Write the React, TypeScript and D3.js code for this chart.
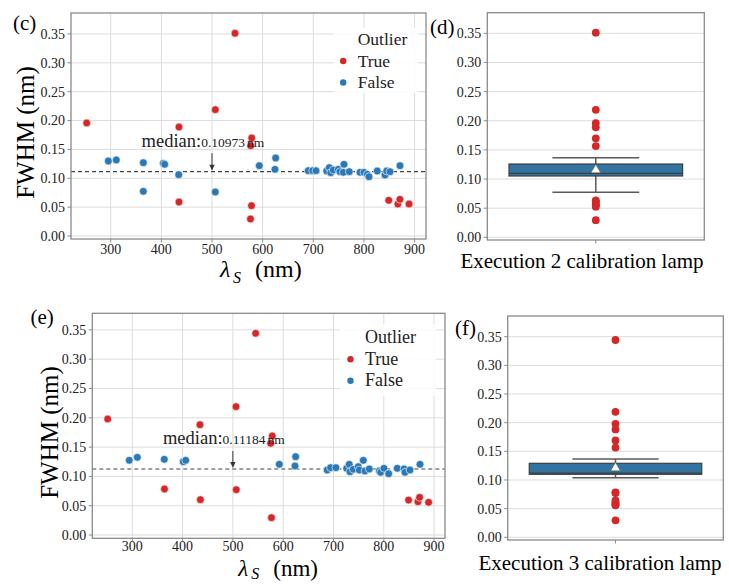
import React from "react";
import * as d3 from "d3";

// ---------- data ----------
// Panel (c): execution 2, outliers (True)
const cOutX = [252.6, 545.4, 506.5, 434.8, 578.4, 576.4, 434.8, 578.0, 576.0, 848.9, 867.0, 871.0, 889.0];
const cOutY = [0.1958, 0.3512, 0.2188, 0.1888, 0.1698, 0.1565, 0.0589, 0.0525, 0.0295, 0.0618, 0.0554, 0.0635, 0.0554];
// Panel (c): inliers (False)
const cInX = [295.3, 311.0, 364.4, 364.4, 403.9, 406.6, 434.2, 506.5, 593.4, 625.7, 624.3,
  690.1, 698.8, 705.3, 726.4, 731.6, 734.4, 739.5, 749.4, 752.7, 760.6, 759.3, 771.1,
  792.2, 800.1, 806.6, 809.9, 826.3, 841.5, 844.9, 851.4, 871.2];
const cInY = [0.1299, 0.1317, 0.127, 0.0774, 0.1259, 0.1242, 0.1062, 0.0762, 0.1218, 0.1351, 0.1155,
  0.1131, 0.1131, 0.1131, 0.1126, 0.1184, 0.1097, 0.1143, 0.1155, 0.1114, 0.1242, 0.1103, 0.1114,
  0.1103, 0.1103, 0.1069, 0.1027, 0.1126, 0.1057, 0.1126, 0.1114, 0.1218];

// Panel (e): execution 3
const eOutX = [251.1, 545.3, 506.2, 434.6, 578.3, 575.1, 364.0, 435.4, 506.7, 576.7, 849.3, 868.0, 871.2, 889.1];
const eOutY = [0.198, 0.3442, 0.219, 0.1882, 0.169, 0.1565, 0.0785, 0.0603, 0.0773, 0.0296, 0.0597, 0.0568, 0.0643, 0.0558];
const eInX = [294.0, 310.0, 363.6, 401.4, 406.2, 592.3, 624.8, 623.5,
  687.5, 694.2, 704.8, 726.2, 731.4, 732.8, 739.4, 749.3, 751.3, 759.3, 762.6, 771.2,
  791.1, 793.8, 800.4, 809.7, 826.8, 840.2, 842.2, 852.1, 872.0];
const eInY = [0.1275, 0.1326, 0.1292, 0.1251, 0.1275, 0.1207, 0.1336, 0.1178,
  0.1109, 0.1149, 0.1149, 0.1138, 0.1206, 0.108, 0.1121, 0.1166, 0.1109, 0.1274, 0.1092, 0.1126,
  0.1092, 0.107, 0.1138, 0.1046, 0.1138, 0.1126, 0.107, 0.1109, 0.1206];

// dashed median lines as drawn, and the annotated values
const medianLines = [0.1114, 0.1126];
const medianLabels = ["0.10973", "0.11184"];

// box plot statistics: [lower whisker, Q1, median, Q3, upper whisker, mean]
const boxStatsD = [0.0772, 0.1052, 0.1097, 0.1258, 0.1366, 0.1155];
const boxStatsF = [0.104, 0.1099, 0.1118, 0.1291, 0.1366, 0.1209];

const xTicks = [300, 400, 500, 600, 700, 800, 900];
const yTicks = [0, 0.05, 0.1, 0.15, 0.2, 0.25, 0.3, 0.35];
const legendItems = ["True", "False"];
const boxLabels = ["Execution 2 calibration lamp", "Execution 3 calibration lamp"];

// ---------- style ----------
const FONT = "'Liberation Serif', 'Times New Roman', serif";
const RED = "#d62728";
const BLUE = "#2a78b6";
const GRID = "#dcdcdc";
const FRAME = "#8a8a8a";
const TEXT = "#222";
const fmt = d3.format(".2f");

type Frame = { x0: number; x1: number; y0: number; y1: number };

function YAxis({ f, y }: { f: Frame; y: d3.ScaleLinear<number, number> }) {
  return (
    <g>
      {yTicks.map((t) => (
        <g key={t}>
          <line x1={f.x0 - 3.5} x2={f.x0} y1={y(t)} y2={y(t)} stroke={FRAME} strokeWidth={1} />
          <text x={f.x0 - 6} y={y(t)} dy="0.35em" textAnchor="end" fontSize={14} fill={TEXT} fontFamily={FONT}>
            {fmt(t)}
          </text>
        </g>
      ))}
    </g>
  );
}

function ScatterPanel(props: {
  f: Frame;
  xDom: [number, number];
  yDom: [number, number];
  inX: number[]; inY: number[]; outX: number[]; outY: number[];
  med: number; medLabel: string;
  tag: string; tagX: number; tagY: number;
  ylX: number; ylY: number;
  xlX: number; xlY: number; subDy: number; xlFs: number; tickDy: number;
  legX: number; legY: number; legFs: number;
  legBox: [number, number, number, number];
}) {
  const { f } = props;
  const x = d3.scaleLinear().domain(props.xDom).range([f.x0, f.x1]);
  const y = d3.scaleLinear().domain(props.yDom).range([f.y1, f.y0]);
  const ax = x(500);
  const tipY = y(props.med) - 1;
  const startY = y(0.1433);
  const lg = props.legFs;
  return (
    <g>
      <rect x={f.x0} y={f.y0} width={f.x1 - f.x0} height={f.y1 - f.y0} fill="#fff" />
      {xTicks.map((t) => (
        <line key={"gx" + t} x1={x(t)} x2={x(t)} y1={f.y0} y2={f.y1} stroke={GRID} strokeWidth={1} />
      ))}
      {yTicks.map((t) => (
        <line key={"gy" + t} x1={f.x0} x2={f.x1} y1={y(t)} y2={y(t)} stroke={GRID} strokeWidth={1} />
      ))}
      <line x1={f.x0} x2={f.x1} y1={y(props.med)} y2={y(props.med)} stroke="#444" strokeWidth={1.2} strokeDasharray="4,3" />
      {props.inX.map((v, i) => (
        <circle key={"i" + i} cx={x(v)} cy={y(props.inY[i])} r={3.9} fill={BLUE} stroke="#fff" strokeWidth={0.6} />
      ))}
      {props.outX.map((v, i) => (
        <circle key={"o" + i} cx={x(v)} cy={y(props.outY[i])} r={3.9} fill={RED} stroke="#fff" strokeWidth={0.6} />
      ))}
      {/* legend */}
      <rect x={props.legBox[0]} y={props.legBox[1]} width={props.legBox[2]} height={props.legBox[3]} rx={3} fill="#fff" fillOpacity={0.85} />
      <text x={props.legX} y={props.legY} fontSize={lg} fill={TEXT} fontFamily={FONT}>Outlier</text>
      {legendItems.map((k, i) => (
        <g key={k}>
          <circle cx={props.legX - 14.5} cy={props.legY + 21.5 * (i + 1) - 5.5} r={3.2} fill={i === 0 ? RED : BLUE} />
          <text x={props.legX} y={props.legY + 21.5 * (i + 1)} fontSize={lg} fill={TEXT} fontFamily={FONT}>{k}</text>
        </g>
      ))}
      {/* annotation */}
      <text x={x(361)} y={y(0.1548)} fill={TEXT} fontFamily={FONT}>
        <tspan fontSize={18.5}>median:</tspan>
        <tspan fontSize={13.5}>{props.medLabel}</tspan>
        <tspan fontSize={13.5} dx={2}>nm</tspan>
      </text>
      <line x1={ax} x2={ax} y1={startY} y2={tipY - 5} stroke="#333" strokeWidth={1} />
      <path d={`M${ax - 2.6},${tipY - 6} L${ax + 2.6},${tipY - 6} L${ax},${tipY} Z`} fill="#333" />
      {/* frame */}
      <rect x={f.x0} y={f.y0} width={f.x1 - f.x0} height={f.y1 - f.y0} fill="none" stroke={FRAME} strokeWidth={1.3} />
      {xTicks.map((t) => (
        <g key={"tx" + t}>
          <line x1={x(t)} x2={x(t)} y1={f.y1} y2={f.y1 + 3.5} stroke={FRAME} strokeWidth={1} />
          <text x={x(t)} y={f.y1 + props.tickDy} textAnchor="middle" fontSize={14} fill={TEXT} fontFamily={FONT}>{t}</text>
        </g>
      ))}
      <YAxis f={f} y={y} />
      <text x={props.tagX} y={props.tagY} fontSize={21} fill="#000" fontFamily={FONT}>{props.tag}</text>
      <text
        transform={`translate(${props.ylX},${props.ylY}) rotate(-90)`}
        textAnchor="middle" dy="0.35em" fontSize={25} fill="#000" fontFamily={FONT}
      >
        FWHM (nm)
      </text>
      <text y={props.xlY} fontSize={props.xlFs} fill="#000" fontFamily={FONT}>
        <tspan x={props.xlX} fontStyle="italic">λ</tspan>
        <tspan x={props.xlX + 13} dy={props.subDy} fontSize={16} fontStyle="italic">S</tspan>
        <tspan x={props.xlX + 35} dy={-props.subDy}>(nm)</tspan>
      </text>
    </g>
  );
}

function BoxPanel(props: {
  f: Frame;
  yDom: [number, number];
  stats: number[];
  outliers: number[];
  tag: string; tagX: number; tagY: number;
  label: string; labelX: number; labelY: number;
}) {
  const { f } = props;
  const y = d3.scaleLinear().domain(props.yDom).range([f.y1, f.y0]);
  const x = d3.scaleBand().domain(["lamp"]).range([f.x0, f.x1]).paddingInner(0).paddingOuter(0);
  const cx = (x("lamp") as number) + x.bandwidth() / 2;
  const bw = x.bandwidth() * 0.8;
  const cw = bw / 2;
  const [lo, q1, md, q3, hi, mean] = props.stats;
  const edge = "#3f3f3f";
  const wh = "#5a5a5a";
  return (
    <g>
      <rect x={f.x0} y={f.y0} width={f.x1 - f.x0} height={f.y1 - f.y0} fill="#fff" />
      {yTicks.map((t) => (
        <line key={"gy" + t} x1={f.x0} x2={f.x1} y1={y(t)} y2={y(t)} stroke={GRID} strokeWidth={1} />
      ))}
      <line x1={cx} x2={cx} y1={y(hi)} y2={y(q3)} stroke={wh} strokeWidth={1.5} />
      <line x1={cx} x2={cx} y1={y(q1)} y2={y(lo)} stroke={wh} strokeWidth={1.5} />
      <line x1={cx - cw / 2} x2={cx + cw / 2} y1={y(hi)} y2={y(hi)} stroke={wh} strokeWidth={1.5} />
      <line x1={cx - cw / 2} x2={cx + cw / 2} y1={y(lo)} y2={y(lo)} stroke={wh} strokeWidth={1.5} />
      <rect x={cx - bw / 2} y={y(q3)} width={bw} height={y(q1) - y(q3)} fill="#3274a1" stroke={edge} strokeWidth={1.2} />
      <line x1={cx - bw / 2} x2={cx + bw / 2} y1={y(md)} y2={y(md)} stroke={edge} strokeWidth={1.2} />
      <path
        d={d3.symbol().type(d3.symbolTriangle).size(40)() as string}
        transform={`translate(${cx},${y(mean)})`}
        fill="#fff" stroke="#555" strokeWidth={0.5}
      />
      {props.outliers.map((v, i) => (
        <circle key={i} cx={cx} cy={y(v)} r={3.9} fill={RED} />
      ))}
      <rect x={f.x0} y={f.y0} width={f.x1 - f.x0} height={f.y1 - f.y0} fill="none" stroke={FRAME} strokeWidth={1.3} />
      <line x1={cx} x2={cx} y1={f.y1} y2={f.y1 + 3.5} stroke={FRAME} strokeWidth={1} />
      <YAxis f={f} y={y} />
      <text x={props.tagX} y={props.tagY} fontSize={21} fill="#000" fontFamily={FONT}>{props.tag}</text>
      <text x={props.labelX} y={props.labelY} textAnchor="middle" fontSize={21} fill="#000" fontFamily={FONT}>{props.label}</text>
    </g>
  );
}

export default function App() {
  return (
    <svg width={729} height={584} style={{ position: "absolute", left: 0, top: 0, background: "#fff" }}>
      <rect width={729} height={584} fill="#fff" />
      <ScatterPanel
        f={{ x0: 71, x1: 426, y0: 13, y1: 239 }}
        xDom={[221.6, 922.5]} yDom={[-0.0052, 0.3863]}
        inX={cInX} inY={cInY} outX={cOutX} outY={cOutY}
        med={medianLines[0]} medLabel={medianLabels[0]}
        tag="(c)" tagX={13} tagY={30}
        ylX={25} ylY={132.5}
        xlX={220} xlY={277} subDy={6} xlFs={24} tickDy={15}
        legX={357.7} legY={45} legFs={17.5}
        legBox={[334, 28, 84, 65]}
      />
      <ScatterPanel
        f={{ x0: 92.3, x1: 445, y0: 313.3, y1: 538.3 }}
        xDom={[220.5, 921.7]} yDom={[-0.0056, 0.3783]}
        inX={eInX} inY={eInY} outX={eOutX} outY={eOutY}
        med={medianLines[1]} medLabel={medianLabels[1]}
        tag="(e)" tagX={30.5} tagY={323.5}
        ylX={49} ylY={432.5}
        xlX={238.3} xlY={575.5} subDy={3.5} xlFs={23} tickDy={13}
        legX={365} legY={343.3} legFs={18}
        legBox={[340, 324, 96, 72]}
      />
      <BoxPanel
        f={{ x0: 487.3, x1: 704.3, y0: 12.7, y1: 240 }}
        yDom={[-0.0046, 0.3854]}
        stats={boxStatsD} outliers={cOutY}
        tag="(d)" tagX={430} tagY={34}
        label={boxLabels[0]} labelX={582} labelY={268}
      />
      <BoxPanel
        f={{ x0: 507.7, x1: 723.3, y0: 316, y1: 540 }}
        yDom={[-0.0047, 0.3861]}
        stats={boxStatsF} outliers={eOutY}
        tag="(f)" tagX={455} tagY={335}
        label={boxLabels[1]} labelX={600} labelY={570}
      />
    </svg>
  );
}
